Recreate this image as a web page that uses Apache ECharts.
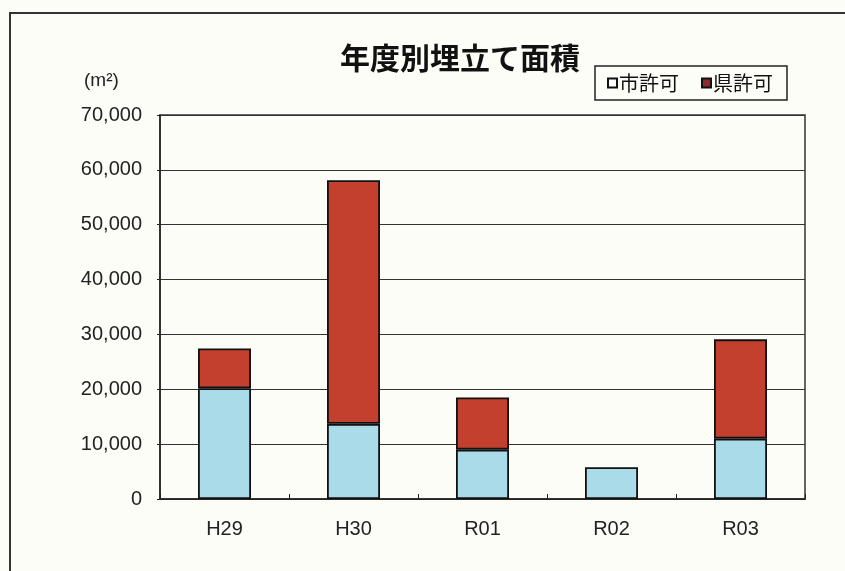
<!DOCTYPE html>
<html>
<head>
<meta charset="utf-8">
<script src="https://cdn.jsdelivr.net/npm/echarts@6/dist/echarts.min.js"></script>
<style>
html,body{margin:0;padding:0;background:#fdfdf7;}
#c{width:845px;height:571px;}
</style>
</head>
<body>
<div id="c"></div>
<script>
const titleText = '年度別埋立て面積';
const unitLabel = '(m²)';
const categories = ['H29', 'H30', 'R01', 'R02', 'R03'];
const seriesNames = ['市許可', '県許可'];
const cityValues = [20200, 13700, 9000, 5800, 11000];
const prefValues = [7250, 44400, 9500, null, 18100];
const yTicks = [0, 10000, 20000, 30000, 40000, 50000, 60000, 70000];

const FONT = '"Liberation Sans", Arial, sans-serif';
const JFONT = '"Noto Sans CJK JP", sans-serif';

const chart = echarts.init(document.getElementById('c'), null, {renderer: 'canvas'});
chart.setOption({
  backgroundColor: '#fdfdf7',
  animation: false,
  title: {
    text: titleText,
    left: 455, top: 38, textAlign: 'center',
    textStyle: {fontFamily: JFONT, fontSize: 30, fontWeight: 'bold', color: '#111'}
  },
  legend: {
    left: 595, top: 66,
    padding: [7, 14, 7, 12],
    borderColor: '#222', borderWidth: 1.5,
    backgroundColor: '#fdfdf7',
    itemWidth: 9, itemHeight: 9, itemGap: 22,
    icon: 'rect',
    textStyle: {fontFamily: JFONT, fontSize: 20, color: '#111', padding: [0, 0, 0, -3]},
    data: [
      {name: seriesNames[0], itemStyle: {color: '#ffffff', borderColor: '#111', borderWidth: 2}},
      {name: seriesNames[1], itemStyle: {color: '#8e2b2e', borderColor: '#111', borderWidth: 2}}
    ]
  },
  graphic: [
    {type: 'rect', shape: {x: 10, y: 13, width: 900, height: 620},
     style: {fill: 'none', stroke: '#333', lineWidth: 2}, silent: true},
    {type: 'text', left: 84, top: 71,
     style: {text: unitLabel, font: '19px ' + FONT, fill: '#222'}}
  ],
  grid: {
    left: 160, right: 40, top: 115, bottom: 72,
    show: true, borderColor: '#333', borderWidth: 1.5, backgroundColor: 'transparent'
  },
  xAxis: {
    type: 'category',
    data: categories,
    axisLine: {lineStyle: {color: '#222', width: 1.5}},
    axisTick: {show: true, inside: true, length: 5, lineStyle: {color: '#222'}},
    axisLabel: {fontFamily: FONT, fontSize: 20, color: '#222', margin: 20}
  },
  yAxis: {
    type: 'value',
    min: yTicks[0], max: yTicks[yTicks.length - 1], interval: 10000,
    axisLine: {show: true, lineStyle: {color: '#222', width: 1.5}},
    axisTick: {show: true, length: 3, lineStyle: {color: '#222'}},
    splitLine: {lineStyle: {color: '#333', width: 1.2}},
    axisLabel: {
      fontFamily: FONT, fontSize: 20, color: '#222', margin: 18,
      formatter: v => v.toLocaleString('en-US')
    }
  },
  series: [
    {
      name: seriesNames[0], type: 'bar', stack: 'a', barWidth: 53,
      data: cityValues,
      itemStyle: {color: '#a9dbe8', borderColor: '#111', borderWidth: 1.8}
    },
    {
      name: seriesNames[1], type: 'bar', stack: 'a', barWidth: 53,
      data: prefValues,
      itemStyle: {color: '#c3402f', borderColor: '#111', borderWidth: 1.8}
    }
  ]
});
</script>
</body>
</html>
